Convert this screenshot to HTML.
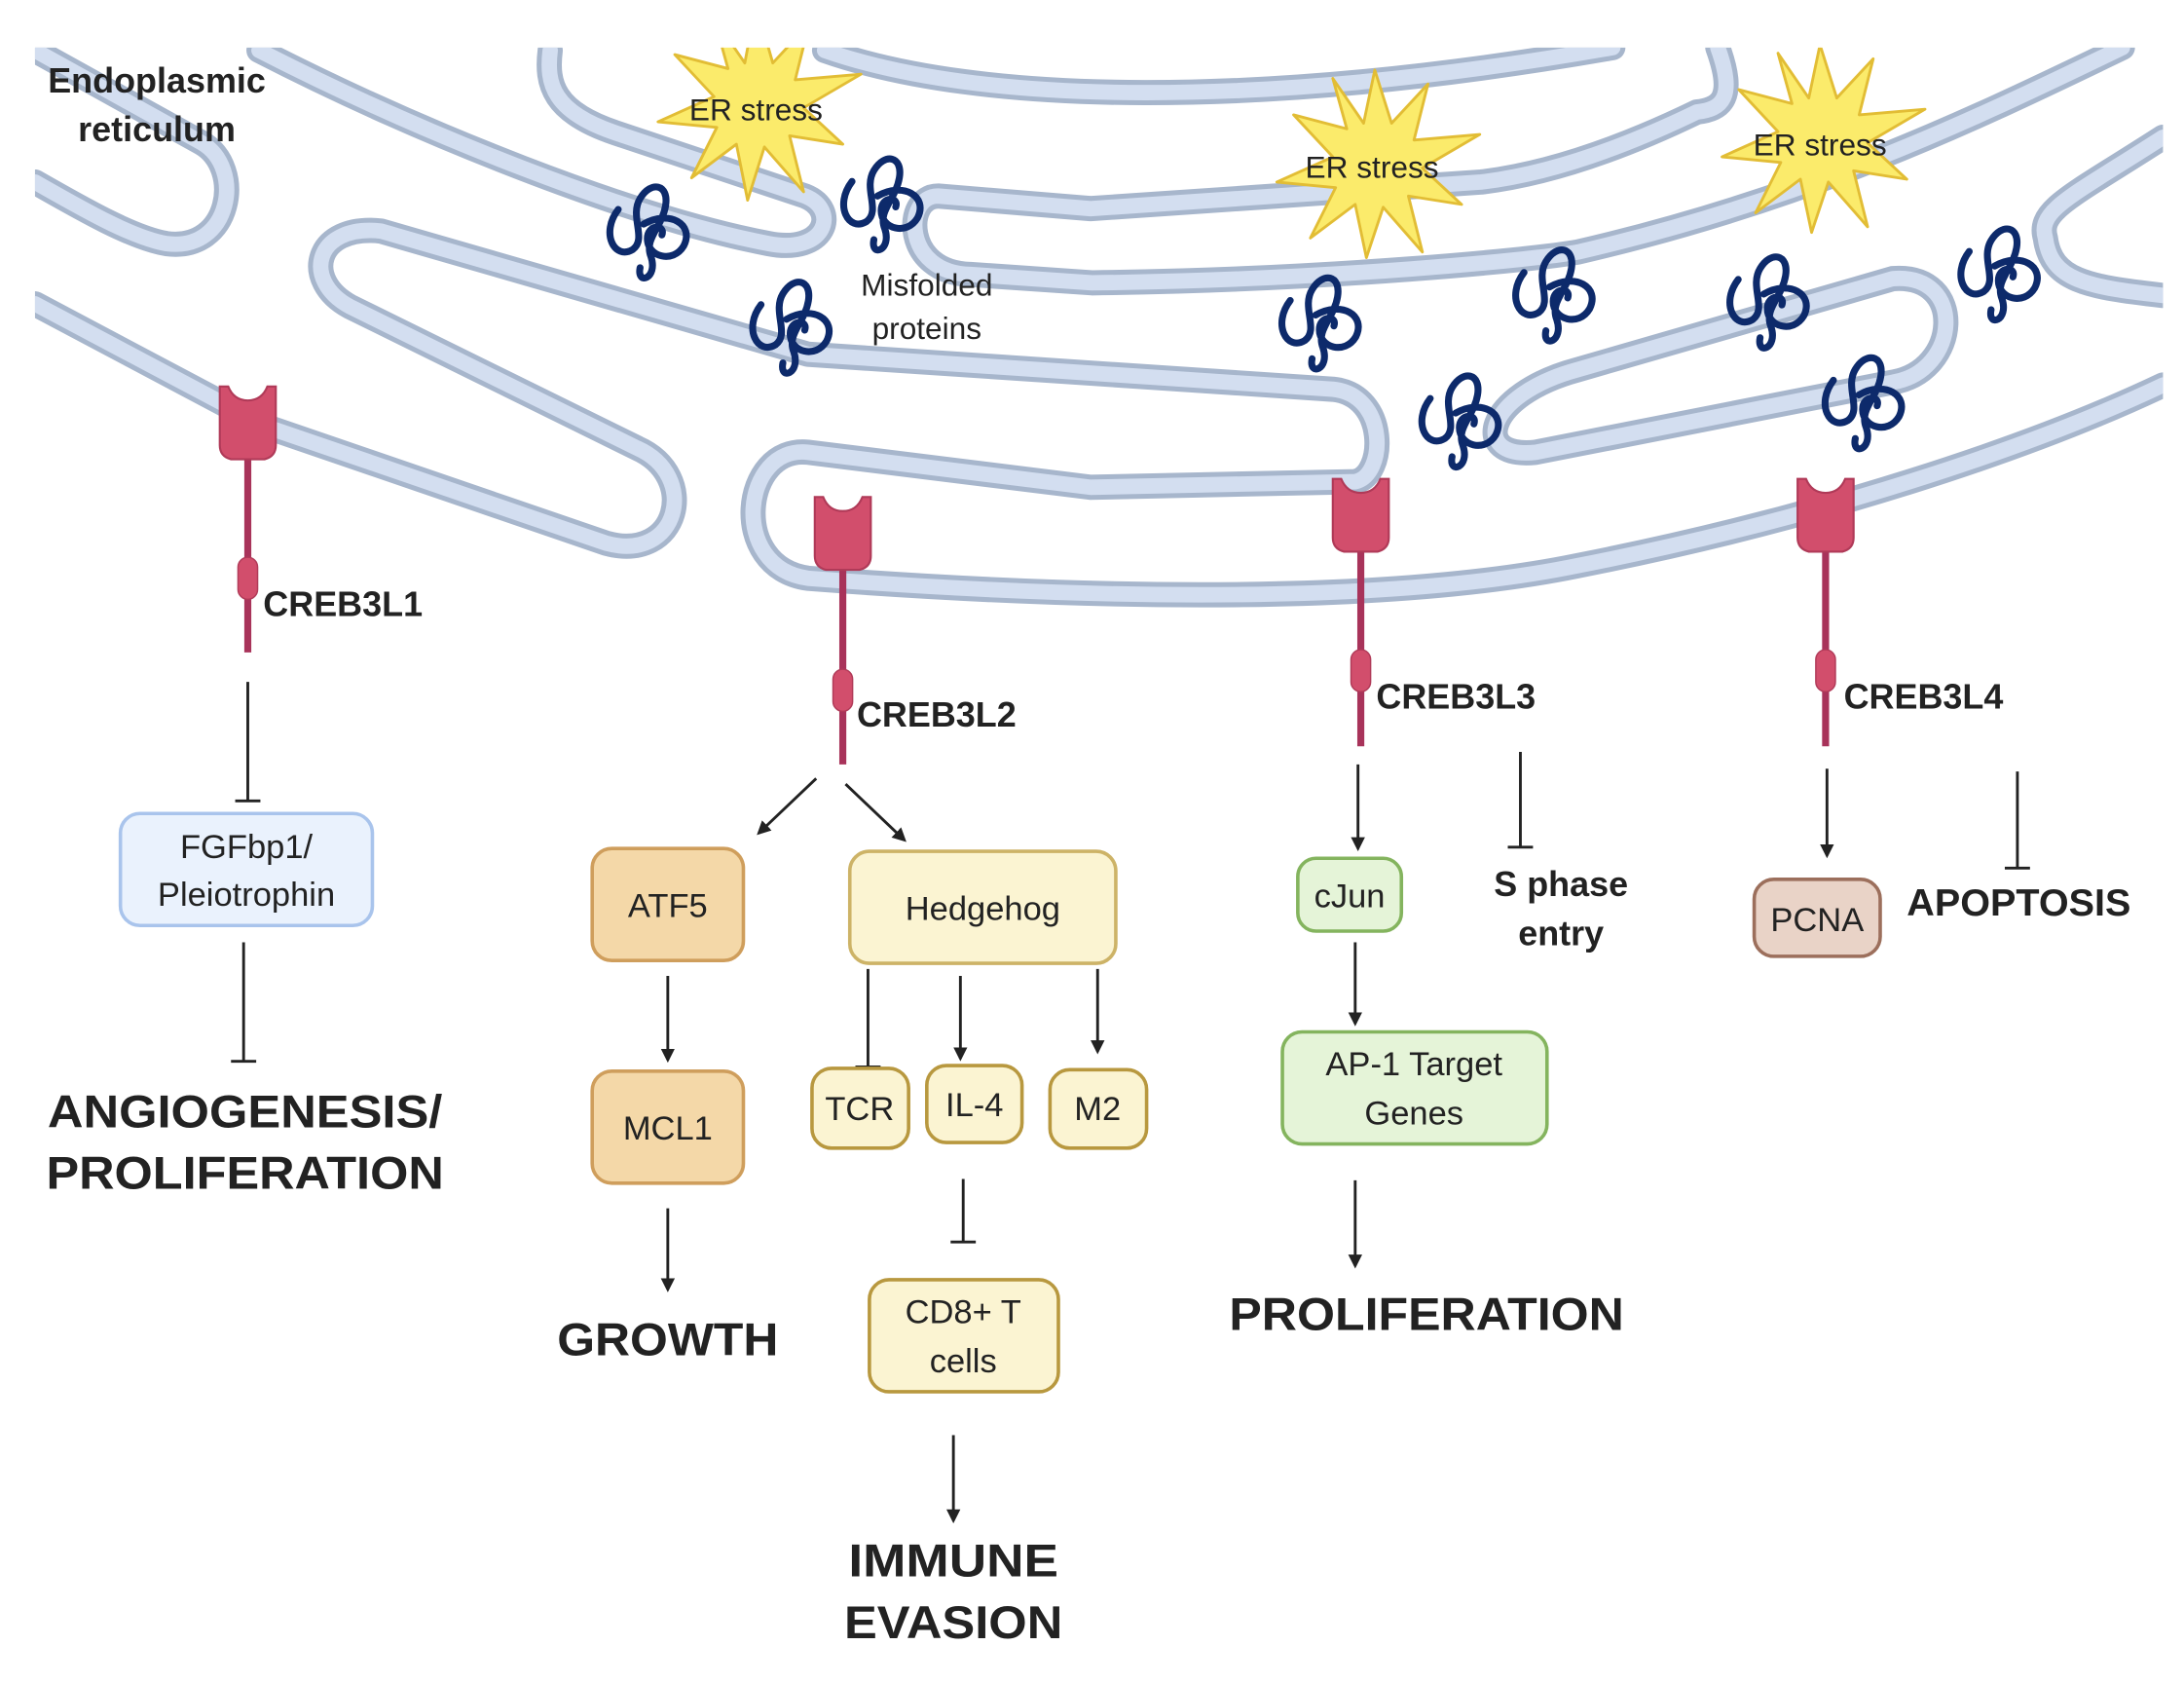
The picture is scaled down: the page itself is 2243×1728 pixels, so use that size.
<!DOCTYPE html>
<html><head><meta charset="utf-8"><style>
html,body{margin:0;padding:0;background:#fff;}
svg{display:block;}
text{font-family:"Liberation Sans",sans-serif;fill:#222;}
.b{font-weight:bold;}
</style></head><body>
<svg width="2243" height="1728" viewBox="0 0 1560 1202" preserveAspectRatio="none" xmlns="http://www.w3.org/2000/svg">
<defs>
<marker id="ar" viewBox="0 0 10 10" refX="8" refY="5" markerWidth="5" markerHeight="5" orient="auto"><path d="M0,0 L10,5 L0,10 z" fill="#222"/></marker>
<clipPath id="cl"><rect x="25" y="34" width="1520" height="1168"/></clipPath>
<g id="prot"><g transform="scale(1.3)"><path d="M-18,-8 C-28,5 -20,20 -10,14 C-2,8 -12,-4 -6,-14 C0,-24 10,-22 8,-10 C6,2 -4,8 0,18 C4,30 -8,34 -6,24 M-4,0 C10,-8 24,0 18,12 C12,22 -2,18 -2,8 C-2,0 8,0 6,6" fill="none" stroke="#0d2a6b" stroke-width="3.8" stroke-linecap="round"/></g></g>
<g id="rec"><path d="M-20,0 L-14,0 Q-10,10 0,10 Q10,10 14,0 L20,0 L20,42 Q20,50 12,52 L-12,52 Q-20,50 -20,42 z" fill="#d24e6c" stroke="#b03a58" stroke-width="1.5"/></g>
</defs>
<g clip-path="url(#cl)" fill="none" stroke-linecap="round" stroke-linejoin="round">
<g id="tubes">
<path d="M25,36 L144,102 C175,120 165,180 119,174 C95,170 60,150 25,130"/>
<path d="M185,36 C300,95 450,155 549,174 C590,182 600,150 575,140 L440,95 C395,80 390,60 393,36"/>
<path d="M589,36 C700,75 900,78 1152,34"/>
<path d="M1227,34 C1240,70 1230,78 1212,80 C1150,110 1100,125 1058,130 L779,149 L670,140 C645,140 645,195 693,196 L780,202 C950,200 1100,185 1127,180 C1300,140 1420,80 1516,34"/>
<path d="M25,217 L191,305 L433,388 C485,402 500,340 455,320 L250,219 C215,200 225,160 272,165 L577,253 L952,278 C992,282 990,340 968,344 L779,348 L577,323 C530,318 520,405 577,413 C800,430 1000,430 1127,404 C1300,370 1450,320 1545,275"/>
<path d="M1352,199 L1127,264 C1060,282 1050,328 1097,323 L1352,273 C1400,265 1405,195 1352,199 z"/>
<path d="M1545,98 C1480,140 1455,150 1461,170 C1465,200 1490,205 1545,211"/>
</g>
</g>
<g clip-path="url(#cl)" fill="none" stroke-linecap="round" stroke-linejoin="round">
<use href="#tubes" stroke="#a7b6cc" stroke-width="18"/>
<use href="#tubes" stroke="#d3def0" stroke-width="11"/>
<g fill="#fbeb6b" stroke="#e2bd35" stroke-width="2">
<polygon transform="translate(540,75)" points="0,-72 12,-30 38,-58 28,-18 75,-22 34,2 62,28 24,22 34,62 6,30 -6,68 -14,28 -46,52 -28,16 -70,12 -30,-6 -58,-36 -20,-26 -30,-62 -8,-30"/>
<polygon transform="translate(982,118)" points="0,-68 12,-30 38,-58 28,-18 75,-22 34,2 62,28 24,22 34,62 6,30 -6,66 -14,28 -46,52 -28,16 -70,12 -30,-6 -58,-36 -20,-26 -30,-62 -8,-30"/>
<polygon transform="translate(1300,100)" points="0,-68 12,-30 38,-58 28,-18 75,-22 34,2 62,28 24,22 34,62 6,30 -6,66 -14,28 -46,52 -28,16 -70,12 -30,-6 -58,-36 -20,-26 -30,-62 -8,-30"/>
</g>
</g>
<text x="540" y="86" font-size="22" text-anchor="middle">ER stress</text>
<text x="980" y="127" font-size="22" text-anchor="middle">ER stress</text>
<text x="1300" y="111" font-size="22" text-anchor="middle">ER stress</text>
<use href="#prot" x="465" y="160"/><use href="#prot" x="632" y="140"/><use href="#prot" x="567" y="228"/>
<use href="#prot" x="945" y="225"/><use href="#prot" x="1112" y="205"/><use href="#prot" x="1045" y="295"/>
<use href="#prot" x="1265" y="210"/><use href="#prot" x="1333" y="282"/><use href="#prot" x="1430" y="190"/>
<text x="112" y="66" font-size="25" class="b" text-anchor="middle">Endoplasmic</text>
<text x="112" y="101" font-size="25" class="b" text-anchor="middle">reticulum</text>
<text x="662" y="211" font-size="22" text-anchor="middle">Misfolded</text>
<text x="662" y="242" font-size="22" text-anchor="middle">proteins</text>
<g stroke="#a8335a" stroke-width="5">
<line x1="177" y1="325" x2="177" y2="466"/>
<line x1="602" y1="405" x2="602" y2="546"/>
<line x1="972" y1="392" x2="972" y2="533"/>
<line x1="1304" y1="392" x2="1304" y2="533"/>
</g>
<use href="#rec" x="177" y="276"/><use href="#rec" x="602" y="355"/><use href="#rec" x="972" y="342"/><use href="#rec" x="1304" y="342"/>
<g fill="#d24e6c" stroke="#b03a58" stroke-width="1">
<rect x="170" y="398" width="14" height="30" rx="7"/>
<rect x="595" y="478" width="14" height="30" rx="7"/>
<rect x="965" y="464" width="14" height="30" rx="7"/>
<rect x="1297" y="464" width="14" height="30" rx="7"/>
</g>
<g class="b" font-size="25">
<text x="188" y="440" class="b">CREB3L1</text>
<text x="612" y="519" class="b">CREB3L2</text>
<text x="983" y="506" class="b">CREB3L3</text>
<text x="1317" y="506" class="b">CREB3L4</text>
</g>
<g stroke="#222" stroke-width="2" fill="none">
<path d="M177,487 V572 M168,572 H186"/>
<path d="M174,673 V758 M165,758 H183"/>
<path d="M583,556 L542,595" marker-end="url(#ar)"/>
<path d="M604,560 L646,600" marker-end="url(#ar)"/>
<path d="M477,697 V757" marker-end="url(#ar)"/>
<path d="M477,863 V921" marker-end="url(#ar)"/>
<path d="M620,692 V762 M611,762 H629"/>
<path d="M686,697 V756" marker-end="url(#ar)"/>
<path d="M784,692 V751" marker-end="url(#ar)"/>
<path d="M688,842 V887 M679,887 H697"/>
<path d="M681,1025 V1086" marker-end="url(#ar)"/>
<path d="M970,546 V606" marker-end="url(#ar)"/>
<path d="M1086,537 V605 M1077,605 H1095"/>
<path d="M968,673 V731" marker-end="url(#ar)"/>
<path d="M968,843 V904" marker-end="url(#ar)"/>
<path d="M1305,549 V611" marker-end="url(#ar)"/>
<path d="M1441,551 V620 M1432,620 H1450"/>
</g>
<g stroke-width="2.5">
<rect x="86" y="581" width="180" height="80" rx="14" fill="#eaf2fd" stroke="#a9c4ec"/>
<rect x="423" y="606" width="108" height="80" rx="14" fill="#f4d8a8" stroke="#cf9e5c"/>
<rect x="607" y="608" width="190" height="80" rx="14" fill="#fbf4d2" stroke="#cdb367"/>
<rect x="423" y="765" width="108" height="80" rx="14" fill="#f4d8a8" stroke="#cf9e5c"/>
<rect x="580" y="763" width="69" height="57" rx="14" fill="#fbf4d2" stroke="#b8983f"/>
<rect x="662" y="761" width="68" height="55" rx="14" fill="#fbf4d2" stroke="#b8983f"/>
<rect x="750" y="764" width="69" height="56" rx="14" fill="#fbf4d2" stroke="#b8983f"/>
<rect x="621" y="914" width="135" height="80" rx="14" fill="#fbf4d2" stroke="#b8983f"/>
<rect x="927" y="613" width="74" height="52" rx="13" fill="#e5f4d8" stroke="#84b45e"/>
<rect x="916" y="737" width="189" height="80" rx="14" fill="#e5f4d8" stroke="#84b45e"/>
<rect x="1253" y="628" width="90" height="55" rx="14" fill="#e9d3c7" stroke="#9c6f5c"/>
</g>
<g font-size="24" text-anchor="middle">
<text x="176" y="613">FGFbp1/</text>
<text x="176" y="647">Pleiotrophin</text>
<text x="477" y="655">ATF5</text>
<text x="702" y="657">Hedgehog</text>
<text x="477" y="814">MCL1</text>
<text x="614" y="800">TCR</text>
<text x="696" y="797">IL-4</text>
<text x="784" y="800">M2</text>
<text x="688" y="945">CD8+ T</text>
<text x="688" y="980">cells</text>
<text x="964" y="648">cJun</text>
<text x="1010" y="768">AP-1 Target</text>
<text x="1010" y="803">Genes</text>
<text x="1298" y="665">PCNA</text>
</g>
<g class="b" text-anchor="middle">
<text x="175" y="805" font-size="33" class="b" textLength="282" lengthAdjust="spacingAndGlyphs">ANGIOGENESIS/</text>
<text x="175" y="849" font-size="33" class="b" textLength="284" lengthAdjust="spacingAndGlyphs">PROLIFERATION</text>
<text x="477" y="968" font-size="33" class="b" textLength="158" lengthAdjust="spacingAndGlyphs">GROWTH</text>
<text x="681" y="1126" font-size="33" class="b" textLength="150" lengthAdjust="spacingAndGlyphs">IMMUNE</text>
<text x="681" y="1170" font-size="33" class="b" textLength="156" lengthAdjust="spacingAndGlyphs">EVASION</text>
<text x="1019" y="950" font-size="33" class="b" textLength="282" lengthAdjust="spacingAndGlyphs">PROLIFERATION</text>
<text x="1115" y="640" font-size="25" class="b">S phase</text>
<text x="1115" y="675" font-size="25" class="b">entry</text>
<text x="1442" y="654" font-size="27" class="b" textLength="160" lengthAdjust="spacingAndGlyphs">APOPTOSIS</text>
</g>
</svg>
</body></html>
